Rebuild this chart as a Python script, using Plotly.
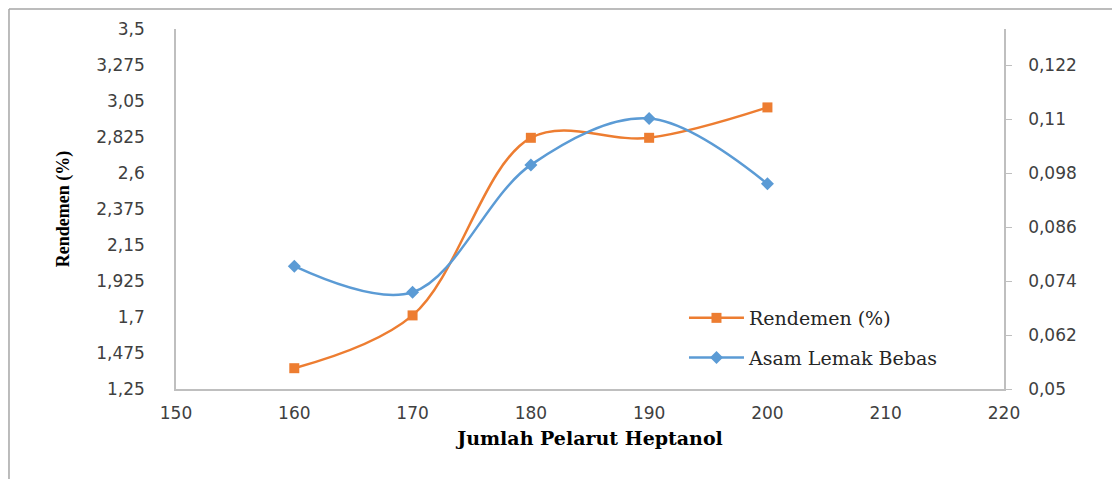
import plotly.graph_objects as go

# data
pelarut = [160, 170, 180, 190, 200]
rendemen = [1.38, 1.71, 2.82, 2.82, 3.01]
asam_lemak = [0.0773, 0.0715, 0.0998, 0.1101, 0.0956]

x_ticks = [150, 160, 170, 180, 190, 200, 210, 220]
y_ticks = [1.25, 1.475, 1.7, 1.925, 2.15, 2.375, 2.6, 2.825, 3.05, 3.275, 3.5]
y_ticktext = ["1,25", "1,475", "1,7", "1,925", "2,15", "2,375", "2,6",
              "2,825", "3,05", "3,275", "3,5"]
y2_ticks = [0.05, 0.062, 0.074, 0.086, 0.098, 0.11, 0.122]
y2_ticktext = ["0,05", "0,062", "0,074", "0,086", "0,098", "0,11", "0,122"]

ORANGE = '#ED7D31'
BLUE = '#5B9BD5'
AXIS = '#BFBFBF'
tick_font = dict(family='DejaVu Sans', size=17, color='#404040')

fig = go.Figure()
fig.add_trace(go.Scatter(name='Rendemen (%)', x=pelarut, y=rendemen,
                         mode='lines+markers', legendgroup='a',
                         line=dict(color=ORANGE, width=2.5, shape='spline', smoothing=1),
                         marker=dict(symbol='square', size=10, color=ORANGE)))
fig.add_trace(go.Scatter(name='Asam Lemak Bebas', x=pelarut, y=asam_lemak,
                         mode='lines+markers', legendgroup='b', yaxis='y2',
                         line=dict(color=BLUE, width=2.5, shape='spline', smoothing=1),
                         marker=dict(symbol='diamond', size=10, color=BLUE)))

fig.update_layout(
    width=1120, height=479,
    margin=dict(l=168, r=124, t=21, b=98),
    paper_bgcolor='white', plot_bgcolor='white',
    showlegend=True,
    legend=dict(x=0.6135, y=0.25, xanchor='left', yanchor='top',
                bgcolor='rgba(0,0,0,0)', itemwidth=55, tracegroupgap=12,
                font=dict(family='DejaVu Serif', size=19, color='#262626')),
    xaxis=dict(range=[150, 220], tickvals=x_ticks, showgrid=False, zeroline=False,
               showline=True, linecolor=AXIS, linewidth=1.5, ticks='',
               ticklabelstandoff=8, tickfont=tick_font,
               title=dict(text='<b>Jumlah Pelarut Heptanol</b>', standoff=10,
                          font=dict(family='DejaVu Serif', size=19, color='black'))),
    yaxis=dict(range=[1.25, 3.5], tickvals=y_ticks, ticktext=y_ticktext,
               showgrid=False, zeroline=False, showline=True, linecolor=AXIS,
               linewidth=1.5, ticks='', ticklabelstandoff=26, tickfont=tick_font,
               title=dict(text='<b>Rendemen (%)</b>', standoff=22,
                          font=dict(family='Liberation Serif', size=18, color='black'))),
    yaxis2=dict(range=[0.05, 0.13], tickvals=y2_ticks, ticktext=y2_ticktext,
                overlaying='y', side='right', showgrid=False, zeroline=False,
                showline=True, linecolor=AXIS, linewidth=1.5, ticks='outside',
                ticklen=6, tickcolor=AXIS, ticklabelstandoff=13, tickfont=tick_font),
    shapes=[
        dict(type='line', xref='paper', yref='paper', x0=-0.2017, x1=1.2,
             y0=1.0556, y1=1.0556, line=dict(color='#A6A6A6', width=1.5)),
        dict(type='line', xref='paper', yref='paper', x0=-0.2017, x1=-0.2017,
             y0=1.0556, y1=-0.3, line=dict(color='#A6A6A6', width=1.5)),
    ],
)

fig.write_html("out.html")
